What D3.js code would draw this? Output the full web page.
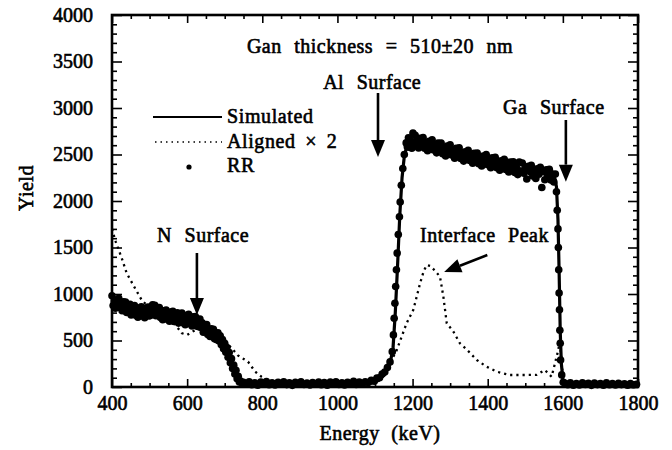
<!DOCTYPE html>
<html>
<head>
<meta charset="utf-8">
<script src="https://cdn.jsdelivr.net/npm/d3@7"></script>
<style>
  body { margin: 0; background: #fff; }
  svg text { font-family: "Liberation Serif", "Times New Roman", serif; fill: #000; stroke: #000; stroke-width: 0.6px; }
</style>
</head>
<body>
<div id="svganchor"></div>
<script>
/*
------------------------
DATA: values (energy in keV, yield in counts)
------------------------
*/
let majorX = [400, 600, 800, 1000, 1200, 1400, 1600, 1800];
let majorY = [0, 500, 1000, 1500, 2000, 2500, 3000, 3500, 4000];

// simulated spectrum (solid line)
let simulated = [
  [400, 920], [450, 850], [500, 815], [550, 775], [600, 735], [630, 705], [660, 600], [690, 520],
  [705, 430], [720, 270], [735, 110], [750, 40], [780, 25], [900, 20], [1050, 20], [1090, 40],
  [1110, 70], [1125, 130], [1140, 250], [1148, 420], [1154, 800], [1160, 1300], [1166, 1850],
  [1172, 2250], [1178, 2480], [1186, 2610], [1200, 2640], [1250, 2590], [1300, 2530], [1350, 2480],
  [1400, 2430], [1450, 2380], [1500, 2330], [1550, 2290], [1578, 2260], [1583, 2150], [1587, 1800],
  [1590, 1250], [1593, 600], [1596, 250], [1600, 80], [1610, 20], [1800, 15]
];

// aligned spectrum x 2 (dotted line)
let aligned = [
  [400, 1700], [410, 1560], [426, 1385], [439, 1225], [456, 1100], [479, 935], [500, 850], [530, 780],
  [560, 720], [585, 580], [600, 560], [616, 600], [640, 640], [660, 600], [690, 500], [705, 470],
  [718, 420], [735, 340], [762, 272], [781, 165], [798, 110], [820, 60], [850, 40], [900, 30],
  [1000, 30], [1080, 40], [1105, 70], [1122, 110], [1140, 255], [1158, 398], [1184, 685], [1202, 830],
  [1211, 971], [1220, 1115], [1230, 1250], [1238, 1312], [1248, 1300], [1262, 1240], [1273, 1186],
  [1282, 971], [1291, 685], [1308, 600], [1326, 470], [1345, 400], [1371, 290], [1397, 218],
  [1424, 165], [1459, 129], [1495, 129], [1530, 130], [1552, 183], [1570, 110], [1588, 400],
  [1592, 505], [1598, 200], [1605, 40], [1650, 20], [1800, 20]
];

// RR (random) data points, grouped by region of the spectrum
let rrLow = [
  [400, 980], [403, 877], [406, 925], [409, 847], [412, 937], [415, 882], [418, 953], [421, 854],
  [424, 903], [427, 821], [430, 915], [433, 859], [436, 913], [439, 802], [442, 862], [445, 802],
  [448, 888], [451, 774], [454, 860], [457, 806], [460, 875], [463, 772], [466, 824], [469, 751],
  [472, 848], [475, 790], [478, 862], [481, 765], [484, 825], [487, 745], [490, 845], [493, 797],
  [496, 861], [499, 764], [502, 832], [505, 775], [508, 885], [511, 800], [514, 878], [517, 767],
  [520, 850], [523, 793], [526, 855], [529, 747], [532, 803], [535, 724], [538, 820], [541, 756],
  [544, 827], [547, 728], [550, 790], [553, 708], [556, 807], [559, 755], [562, 813], [565, 705],
  [568, 767], [571, 710], [574, 798], [577, 687], [580, 775], [583, 722], [586, 795], [589, 691],
  [592, 743], [595, 670], [598, 767], [601, 709], [604, 781], [607, 683], [610, 740], [613, 657],
  [616, 754], [619, 701], [622, 758], [625, 655], [628, 715], [631, 648], [634, 730], [637, 640],
  [640, 690], [643, 588], [646, 670], [649, 610], [652, 672], [655, 565], [658, 617], [661, 543],
  [664, 625], [667, 558], [670, 620], [673, 518], [676, 575], [679, 508], [682, 583], [685, 495],
  [688, 550], [691, 453], [694, 510], [697, 410], [700, 470], [703, 373], [706, 425], [709, 320],
  [712, 370], [715, 260], [718, 305], [721, 200], [724, 235], [727, 140], [730, 180], [733, 90],
  [736, 115], [739, 55], [742, 65], [745, 45]
];
let rrFlat = [
  [750, 50], [757, 30], [765, 55], [772, 25], [780, 45], [788, 20], [796, 52], [803, 32],
  [811, 58], [818, 24], [826, 44], [834, 22], [842, 50], [849, 35], [857, 55], [865, 26],
  [872, 46], [880, 18], [888, 50], [896, 33], [903, 57], [911, 27], [919, 42], [927, 21],
  [934, 48], [942, 31], [950, 54], [957, 25], [965, 47], [973, 20], [981, 52], [988, 30],
  [996, 56], [1004, 28], [1012, 46], [1019, 22], [1027, 50], [1035, 34], [1043, 60], [1050, 28],
  [1058, 52], [1066, 35], [1074, 55], [1082, 48], [1090, 72], [1098, 62], [1105, 95], [1112, 100],
  [1119, 140], [1126, 160], [1133, 210], [1140, 270]
];
let rrRise = [
  [1146, 380], [1149, 560], [1151, 740], [1153, 900], [1155, 1080], [1157, 1260], [1159, 1440],
  [1162, 1640], [1165, 1830], [1167, 1990], [1170, 2170], [1174, 2350], [1178, 2500]
];
let rrTop = [
  [1183, 2625], [1186, 2582], [1189, 2680], [1192, 2578], [1195, 2650], [1198, 2568], [1201, 2730],
  [1204, 2618], [1207, 2706], [1210, 2599], [1213, 2657], [1216, 2570], [1220, 2675], [1224, 2616],
  [1228, 2682], [1232, 2568], [1236, 2629], [1240, 2540], [1244, 2641], [1248, 2582], [1252, 2658],
  [1256, 2548], [1260, 2608], [1264, 2518], [1268, 2623], [1272, 2559], [1276, 2624], [1280, 2509],
  [1284, 2569], [1288, 2485], [1292, 2590], [1296, 2520], [1300, 2605], [1304, 2495], [1308, 2551],
  [1312, 2461], [1316, 2567], [1320, 2507], [1324, 2573], [1328, 2458], [1332, 2519], [1336, 2429],
  [1340, 2530], [1344, 2470], [1348, 2545], [1352, 2436], [1356, 2497], [1360, 2407], [1364, 2513],
  [1368, 2449], [1372, 2515], [1376, 2400], [1380, 2461], [1384, 2377], [1388, 2483], [1392, 2413],
  [1396, 2499], [1400, 2390], [1404, 2446], [1408, 2357], [1412, 2464], [1416, 2405], [1420, 2471],
  [1424, 2357], [1428, 2418], [1432, 2330], [1436, 2431], [1440, 2372], [1444, 2448], [1448, 2340],
  [1452, 2401], [1456, 2312], [1460, 2418], [1464, 2354], [1468, 2421], [1472, 2307], [1476, 2368],
  [1480, 2284], [1484, 2420], [1488, 2321], [1492, 2408], [1496, 2299], [1500, 2355], [1504, 2237],
  [1508, 2374], [1512, 2316], [1516, 2383], [1520, 2269], [1524, 2331], [1528, 2243], [1532, 2345],
  [1536, 2287], [1540, 2363], [1544, 2145], [1548, 2317], [1552, 2229], [1556, 2336], [1560, 2273],
  [1564, 2340], [1568, 2227], [1572, 2289], [1576, 2205], [1580, 2290]
];
let rrEdge = [
  [1583, 2100], [1585, 1900], [1587, 1700], [1588, 1500], [1589, 1260], [1590, 1010], [1591, 830],
  [1592, 610], [1593, 470], [1594, 290], [1597, 130], [1601, 50]
];
let rrTail = [
  [1606, 40], [1613, 25], [1620, 45], [1628, 20], [1636, 38], [1644, 22], [1652, 44], [1660, 28],
  [1668, 40], [1676, 18], [1684, 42], [1692, 26], [1700, 36], [1708, 20], [1716, 44], [1724, 24],
  [1732, 38], [1740, 22], [1748, 40], [1756, 26], [1764, 34], [1772, 20], [1780, 38], [1788, 24], [1796, 30]
];

// annotations: [label, energy, yield] and arrows [x1, y1, x2, y2] in data units
let labels = [
  ["Gan thickness = 510\u00b120 nm", 759, 3591],
  ["Al Surface", 962, 3204],
  ["Ga Surface", 1441, 2935],
  ["N Surface", 520, 1559],
  ["Interface Peak", 1220, 1559]
];
let arrows = [
  [1108, 3161, 1108, 2473],
  [1608, 2871, 1608, 2208],
  [626, 1441, 626, 774],
  [1399, 1419, 1284, 1236]
];

/*
------------------------
METHOD: set up the svg and scales
------------------------
*/
var width = 672, height = 450;
var svg = d3.select("#svganchor").append("svg")
  .attr("width", width)
  .attr("height", height);

var x = d3.scaleLinear().domain([400, 1800]).range([112, 638]);
var y = d3.scaleLinear().domain([0, 4000]).range([387, 15]);

var minorX = d3.range(400, 1801, 50).filter(function (d) { return majorX.indexOf(d) < 0; });
var minorY = d3.range(0, 4001, 100).filter(function (d) { return majorY.indexOf(d) < 0; });

// axes with ticks pointing into the plot
function addAxis(axisFn, scale, values, size, pad, transform, showText) {
  var g = svg.append("g")
    .attr("transform", transform)
    .call(axisFn(scale)
      .tickValues(values)
      .tickSizeInner(-size)
      .tickSizeOuter(0)
      .tickPadding(pad)
      .tickFormat(showText ? d3.format("d") : ""));
  g.select(".domain").remove();
  g.selectAll("line").attr("stroke", "#000").attr("stroke-width", 1.6);
  g.selectAll("text").style("font-size", "20px").attr("fill", "#000");
  return g;
}
addAxis(d3.axisBottom, x, majorX, 8, 9, "translate(0,387)", true);
addAxis(d3.axisBottom, x, minorX, 4, 0, "translate(0,387)", false);
addAxis(d3.axisTop, x, majorX, 8, 0, "translate(0,15)", false);
addAxis(d3.axisTop, x, minorX, 4, 0, "translate(0,15)", false);
addAxis(d3.axisLeft, y, majorY, 10, 19, "translate(112,0)", true);
addAxis(d3.axisLeft, y, minorY, 5, 0, "translate(112,0)", false);
addAxis(d3.axisRight, y, majorY, 10, 0, "translate(638,0)", false);
addAxis(d3.axisRight, y, minorY, 5, 0, "translate(638,0)", false);

// frame
svg.append("rect")
  .attr("x", x(400)).attr("y", y(4000))
  .attr("width", x(1800) - x(400)).attr("height", y(0) - y(4000))
  .attr("fill", "none").attr("stroke", "#000").attr("stroke-width", 2.6);

/*
------------------------
METHOD: draw the three spectra
------------------------
*/
var line = d3.line()
  .x(function (d) { return x(d[0]); })
  .y(function (d) { return y(d[1]); });

svg.append("path")
  .attr("d", line(aligned))
  .attr("fill", "none")
  .attr("stroke", "#000")
  .attr("stroke-width", 2.3)
  .attr("stroke-dasharray", "2.2,4");

svg.append("path")
  .attr("d", line(simulated))
  .attr("fill", "none")
  .attr("stroke", "#000")
  .attr("stroke-width", 3.2);

var rr = rrLow.concat(rrFlat, rrRise, rrTop, rrEdge, rrTail);
svg.selectAll("rrDots")
  .data(rr)
  .enter()
  .append("circle")
  .attr("cx", function (d) { return x(d[0]); })
  .attr("cy", function (d) { return y(d[1]); })
  .attr("r", 3.8)
  .attr("fill", "#000");

/*
------------------------
METHOD: labels and arrows
------------------------
*/
svg.selectAll("noteText")
  .data(labels)
  .enter()
  .append("text")
  .attr("x", function (d) { return x(d[1]); })
  .attr("y", function (d) { return y(d[2]); })
  .style("font-size", "20px")
  .style("letter-spacing", "0.5px")
  .style("word-spacing", "7px")
  .text(function (d) { return d[0]; });

arrows.forEach(function (a) {
  var x1 = x(a[0]), y1 = y(a[1]), x2 = x(a[2]), y2 = y(a[3]);
  var ang = Math.atan2(y2 - y1, x2 - x1);
  var len = 17, half = 7;
  var bx = x2 - len * Math.cos(ang), by = y2 - len * Math.sin(ang);
  svg.append("line")
    .attr("x1", x1).attr("y1", y1).attr("x2", bx).attr("y2", by)
    .attr("stroke", "#000").attr("stroke-width", 2.6);
  svg.append("path")
    .attr("d", "M" + x2 + "," + y2 +
      "L" + (bx + half * Math.sin(ang)) + "," + (by - half * Math.cos(ang)) +
      "L" + (bx - half * Math.sin(ang)) + "," + (by + half * Math.cos(ang)) + "Z")
    .attr("fill", "#000");
});

// legend
var legend = svg.append("g");
legend.append("line").attr("x1", 153).attr("x2", 222).attr("y1", 117).attr("y2", 117)
  .attr("stroke", "#000").attr("stroke-width", 2.2);
legend.append("line").attr("x1", 155).attr("x2", 222).attr("y1", 142).attr("y2", 142)
  .attr("stroke", "#000").attr("stroke-width", 1.6).attr("stroke-dasharray", "1.5,4");
legend.append("circle").attr("cx", 189).attr("cy", 167).attr("r", 2.6).attr("fill", "#000");
legend.selectAll("legendText")
  .data(["Simulated", "Aligned \u00d7 2", "RR"])
  .enter()
  .append("text")
  .attr("x", 227)
  .attr("y", function (d, i) { return 123 + i * 24.5; })
  .style("font-size", "20px")
  .style("letter-spacing", "0.6px")
  .style("word-spacing", "4px")
  .text(function (d) { return d; });

// axis titles
svg.append("text")
  .attr("transform", "translate(33,188) rotate(-90)")
  .attr("text-anchor", "middle")
  .style("font-size", "20px")
  .style("letter-spacing", "0.5px")
  .text("Yield");
svg.append("text")
  .attr("x", 380)
  .attr("y", 440)
  .attr("text-anchor", "middle")
  .style("font-size", "20px")
  .style("letter-spacing", "0.5px")
  .style("word-spacing", "6px")
  .text("Energy (keV)");
</script>
</body>
</html>
